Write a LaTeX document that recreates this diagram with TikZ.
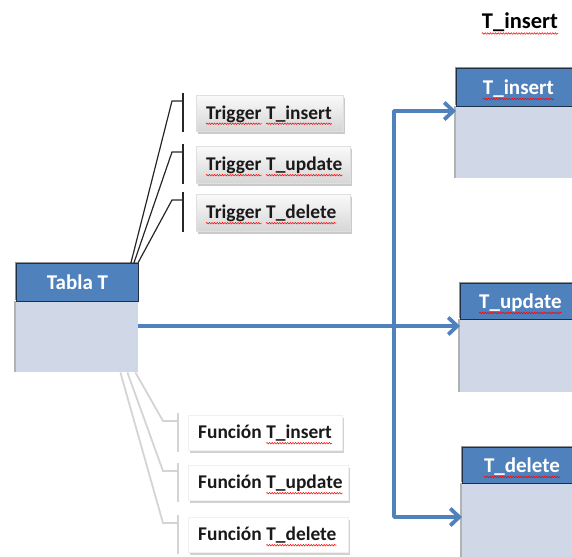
\documentclass[tikz,border=0pt]{standalone}
\usepackage{fontspec}
\setmainfont{Carlito}
\usetikzlibrary{arrows.meta,shadows,decorations.pathmorphing}

\definecolor{accent}{HTML}{4F81BD}
\definecolor{pale}{HTML}{D0D8E8}
\definecolor{rim}{HTML}{1F2F45}
\definecolor{faint}{HTML}{D4D4D4}

\newcommand\boxfont{\bfseries\fontsize{19.4bp}{22bp}\selectfont}
\newcommand\headfont{\bfseries\fontsize{21bp}{24bp}\selectfont}
\newcommand\titlefont{\bfseries\fontsize{22.5bp}{26bp}\selectfont}

\begin{document}
\begin{tikzpicture}[x=1bp,y=-1bp,
  tblhead/.style={draw=rim, line width=0.9bp, fill=accent, inner sep=0, anchor=north west,
    drop shadow={shadow xshift=-1.5bp, shadow yshift=1.5bp, opacity=.6, fill=black!70}},
  tblbody/.style={fill=pale, inner sep=0, anchor=north west,
    drop shadow={shadow xshift=-2bp, shadow yshift=0bp, opacity=.55, fill=black!55}},
  trigbox/.style={top color=gray!4, bottom color=gray!32, draw=gray!25, line width=0.4bp,
    inner sep=0, anchor=north west,
    drop shadow={shadow xshift=2bp, shadow yshift=-2.5bp, opacity=.35, fill=black!60}},
  funcbox/.style={fill=white, draw=gray!12, line width=0.4bp, inner sep=0, anchor=north west,
    drop shadow={shadow xshift=2bp, shadow yshift=-2.5bp, opacity=.3, fill=black!60}},
  wtxt/.style={anchor=base west, inner sep=0, font=\boxfont, text=black!90},
  htxt/.style={anchor=base, inner sep=0, font=\headfont, text=white},
  squig/.style={draw=red, line width=0.5bp, decorate,
    decoration={snake, amplitude=0.8bp, segment length=2.6bp}},
  blk/.style={draw=black!85, line width=1.2bp},
  soft/.style={draw=faint, line width=1.8bp},
  flow/.style={draw=accent, line width=3.8bp, line join=round,
    -{Straight Barb[length=9bp,width=17bp]}}]

\useasboundingbox (0,0) rectangle (572,557);
\clip (0,0) rectangle (572,557);

% source table
\node[tblhead, minimum width=122bp, minimum height=38bp] (tablaHead) at (16,263) {};
\node[tblbody, minimum width=122bp, minimum height=71bp] (tablaBody) at (16,301) {};
\draw[draw=rim, line width=0.9bp] (tablaHead.south west) -- (tablaHead.south east);
\node[htxt] (tablaT) at ([yshift=-7bp]tablaHead.center) {Tabla T};

% triggers
\node[trigbox, minimum width=147bp, minimum height=36bp] (tg1) at (196,95) {};
\node[trigbox, minimum width=154bp, minimum height=37bp] (tg2) at (196,146) {};
\node[trigbox, minimum width=154bp, minimum height=37bp] (tg3) at (196,194) {};
\node[wtxt] (tg1a) at ([xshift=10bp,yshift=-6bp]tg1.west) {Trigger};
\node[wtxt] (tg1b) at ([xshift=4.3bp]tg1a.base east) {T\_insert};
\node[wtxt] (tg2a) at ([xshift=10bp,yshift=-6bp]tg2.west) {Trigger};
\node[wtxt] (tg2b) at ([xshift=4.3bp]tg2a.base east) {T\_update};
\node[wtxt] (tg3a) at ([xshift=10bp,yshift=-6bp]tg3.west) {Trigger};
\node[wtxt] (tg3b) at ([xshift=4.3bp]tg3a.base east) {T\_delete};

% functions
\node[funcbox, minimum width=154bp, minimum height=35bp] (fn1) at (188,415) {};
\node[funcbox, minimum width=160bp, minimum height=35bp] (fn2) at (188,465) {};
\node[funcbox, minimum width=160bp, minimum height=35bp] (fn3) at (188,517) {};
\node[wtxt] (fn1a) at ([xshift=10bp,yshift=-6bp]fn1.west) {Función};
\node[wtxt] (fn1b) at ([xshift=4.3bp]fn1a.base east) {T\_insert};
\node[wtxt] (fn2a) at ([xshift=10bp,yshift=-6bp]fn2.west) {Función};
\node[wtxt] (fn2b) at ([xshift=4.3bp]fn2a.base east) {T\_update};
\node[wtxt] (fn3a) at ([xshift=10bp,yshift=-6bp]fn3.west) {Función};
\node[wtxt] (fn3b) at ([xshift=4.3bp]fn3a.base east) {T\_delete};

% target tables
\node[anchor=base, inner sep=0, font=\titlefont] (titleT) at (520,29) {T\_insert};

\node[tblhead, minimum width=124bp, minimum height=38bp] (insHead) at (456,68) {};
\node[tblbody, minimum width=124bp, minimum height=72bp] (insBody) at (456,106) {};
\draw[draw=rim, line width=0.9bp] (insHead.south west) -- (insHead.south east);
\node[htxt] (insT) at ([yshift=-7bp]insHead.center) {T\_insert};

\node[tblhead, minimum width=120bp, minimum height=36bp] (updHead) at (460,283) {};
\node[tblbody, minimum width=120bp, minimum height=73bp] (updBody) at (460,319) {};
\draw[draw=rim, line width=0.9bp] (updHead.south west) -- (updHead.south east);
\node[htxt] (updT) at ([yshift=-7bp]updHead.center) {T\_update};

\node[tblhead, minimum width=119bp, minimum height=36bp] (delHead) at (462,447) {};
\node[tblbody, minimum width=119bp, minimum height=80bp] (delBody) at (462,483) {};
\draw[draw=rim, line width=0.9bp] (delHead.south west) -- (delHead.south east);
\node[htxt] (delT) at ([yshift=-7bp]delHead.center) {T\_delete};

% spelling marks under the identifiers
\foreach \w in {tg1a,tg1b,tg2a,tg2b,tg3a,tg3b,fn1b,fn2b,fn3b,insT,updT,delT,titleT}
  \draw[squig] ([yshift=-4.5bp]\w.base west) -- ([yshift=-4.5bp]\w.base east);

% brackets from the table to the triggers
\foreach \n/\s in {tg1/-8, tg2/-5, tg3/-1}{
  \draw[blk] ([xshift=-13bp,yshift=2bp]\n.north west) -- ([xshift=-13bp,yshift=-1bp]\n.south west);
  \draw[blk] ([xshift=\s bp]tablaHead.north east)
    -- ([xshift=-24bp,yshift=-6bp]\n.north west)
    -- ([xshift=-13bp,yshift=-6bp]\n.north west);
}

% brackets from the table to the functions
\foreach \n/\s in {fn1/-3, fn2/-11, fn3/-18}{
  \draw[soft] ([xshift=-10bp,yshift=2bp]\n.north west) -- ([xshift=-10bp,yshift=-2bp]\n.south west);
  \draw[soft] ([xshift=\s bp]tablaBody.south east)
    -- ([xshift=-25bp,yshift=-6bp]\n.north west)
    -- ([xshift=-10bp,yshift=-6bp]\n.north west);
}

% data flow to the target tables
\coordinate (j) at (394,326);
\coordinate (jt) at (394,111);
\coordinate (jb) at (394,517);
\draw[flow] (j -| tablaBody.east) -- (j -| updBody.west);
\draw[flow] (j) -- (jt) -- (jt -| insBody.west);
\draw[flow] (j) -- (jb) -- (jb -| delBody.west);

\end{tikzpicture}
\end{document}
